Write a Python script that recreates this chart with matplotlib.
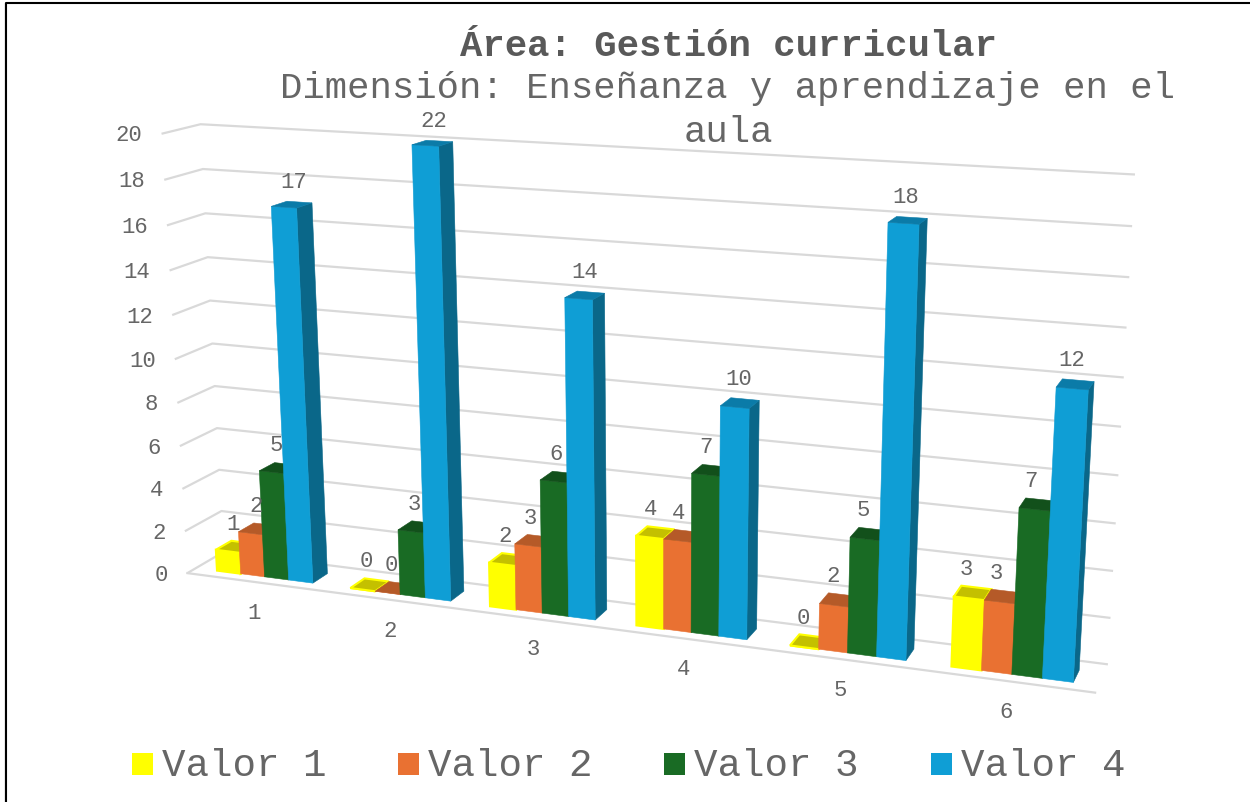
import numpy as np
import matplotlib
matplotlib.use('Agg')
import matplotlib.pyplot as plt
from matplotlib.patches import Polygon, Rectangle

categories = ['1', '2', '3', '4', '5', '6']
valor_1 = [1, 0, 2, 4, 0, 3]
valor_2 = [2, 0, 3, 4, 2, 3]
valor_3 = [5, 3, 6, 7, 5, 7]
valor_4 = [17, 22, 14, 10, 18, 12]
series_names = ['Valor 1', 'Valor 2', 'Valor 3', 'Valor 4']
y_ticks = [0, 2, 4, 6, 8, 10, 12, 14, 16, 18, 20]
Y_MAX = 20

# front, side, top colours per series
colors = [('#FFFF00', '#C9C900', '#C4C000'),
          ('#E97132', '#A8501F', '#B55A28'),
          ('#196B24', '#114A19', '#12501B'),
          ('#0F9ED5', '#0A6789', '#0B7BA8')]
GRID = '#D9D9D9'
TEXT = '#666666'
FONT = 'Liberation Mono'

GROUP_W = 0.12
GROUP_START = 0.0865
GROUP_STEP = 0.1659
Z_BACK, Z_FRONT = 0.33, 0.76

# fit the 3d view: (x, value, depth) -> pixel
calib = [((0, 0, 0), (224, 552.5)), ((1, 0, 0), (1108, 665.5)),
         ((0, 20, 0), (200, 125.5)), ((1, 20, 0), (1135, 175.5)),
         ((0, 0, 1), (187, 574.5)), ((1, 0, 1), (1095, 693.5)),
         ((0, 20, 1), (162, 134.5))]
A, b = [], []
for (x, v, z), (px, py) in calib:
    A.append([x, v, z, 1, 0, 0, 0, 0, -px * x, -px * v, -px * z])
    A.append([0, 0, 0, 0, x, v, z, 1, -py * x, -py * v, -py * z])
    b += [px, py]
m = np.linalg.lstsq(np.array(A, float), np.array(b, float), rcond=None)[0]
P = np.append(m, 1).reshape(3, 4)


def proj(x, v, z):
    q = P @ np.array([x, v, z, 1.0])
    return q[0] / q[2], q[1] / q[2]


fig = plt.figure(figsize=(12.5, 8.03), dpi=100)
ax = fig.add_axes([0, 0, 1, 1])
ax.set_xlim(0, 1250)
ax.set_ylim(803, 0)
ax.axis('off')

# outer frame
ax.plot([4.5, 4.5], [803, 4], color='#BBBBBB', lw=1)
ax.plot([6, 6, 1250], [803, 4, 4], color='black', lw=1.5)

# gridlines and value axis labels
for t in y_ticks:
    pts = [proj(0, t, 1), proj(0, t, 0), proj(1, t, 0)]
    ax.plot(*zip(*pts), color=GRID, lw=1.6, solid_capstyle='butt', zorder=1)
    px, py = pts[0]
    ax.text(px - 19, py + 1, str(t), ha='right', va='center', family=FONT,
            fontsize=16, color=TEXT)
ax.plot(*zip(proj(0, 0, 1), proj(1, 0, 1)), color=GRID, lw=1.6, zorder=1)

# bars
all_series = [valor_1, valor_2, valor_3, valor_4]
zo = 2
for i, cat in enumerate(categories):
    centre = GROUP_START + i * GROUP_STEP
    bw = GROUP_W / 4
    for j, vals in enumerate(all_series):
        val = vals[i]
        h = min(val, Y_MAX)
        x0 = centre - GROUP_W / 2 + j * bw
        x1 = x0 + bw
        front, side, top = colors[j]
        faces = [
            ([(x1, 0, Z_FRONT), (x1, 0, Z_BACK), (x1, h, Z_BACK), (x1, h, Z_FRONT)], side),
            ([(x0, 0, Z_FRONT), (x1, 0, Z_FRONT), (x1, h, Z_FRONT), (x0, h, Z_FRONT)], front),
            ([(x0, h, Z_FRONT), (x1, h, Z_FRONT), (x1, h, Z_BACK), (x0, h, Z_BACK)], top),
        ]
        for corners, col in faces:
            edge = '#FFFF00' if j == 0 else col
            ax.add_patch(Polygon([proj(*c) for c in corners], closed=True, facecolor=col,
                                 edgecolor=edge, lw=1.5 if j == 0 else 0.4, zorder=zo))
            zo += 1
        lx, ly = proj((x0 + x1) / 2, h, Z_BACK)
        shift = -6 if j == 3 else -10
        lift = 21 if j == 3 else 19
        ax.text(lx + shift, ly - lift, str(val), ha='center', va='center', family=FONT,
                fontsize=16, color=TEXT, zorder=100)
    cx, cy = proj(centre, 0, 1)
    ax.text(cx - 2, cy + 30, cat, ha='center', va='center', family=FONT,
            fontsize=16, color=TEXT)

# titles
ax.text(728, 46.5, 'Área: Gestión curricular', ha='center', va='center', family=FONT,
        fontsize=26.8, fontweight='bold', color='#595959')
ax.text(728, 89, 'Dimensión: Enseñanza y aprendizaje en el', ha='center', va='center',
        family=FONT, fontsize=26.8, color=TEXT)
ax.text(728, 132, 'aula', ha='center', va='center', family=FONT, fontsize=26.8, color=TEXT)

# legend
legend_x = [132, 398, 664, 931]
for name, lx, col in zip(series_names, legend_x, colors):
    ax.add_patch(Rectangle((lx, 754), 21, 22, facecolor=col[0], edgecolor='none'))
    ax.text(lx + 30, 766, name, ha='left', va='center', family=FONT, fontsize=28.2, color=TEXT)

fig.savefig('out.png', dpi=100)
